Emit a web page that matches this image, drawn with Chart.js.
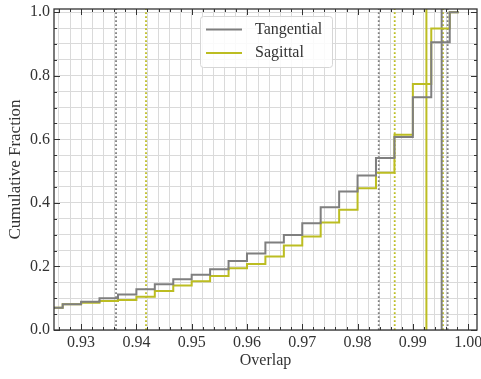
<!DOCTYPE html>
<html>
<head>
<meta charset="utf-8">
<script src="https://cdn.jsdelivr.net/npm/chart.js@4.4.0/dist/chart.umd.min.js"></script>
<style>
html, body { margin: 0; padding: 0; background: #fff; }
</style>
</head>
<body>
<canvas id="chart" width="481" height="379"></canvas>
<script>
// left edge of each histogram bin (last entry = end of the top step)
let binEdges = [0.92333, 0.92667, 0.93, 0.93333, 0.93667, 0.94, 0.94333, 0.94667, 0.95, 0.95333,
    0.95667, 0.96, 0.96333, 0.96667, 0.97, 0.97333, 0.97667, 0.98, 0.98333, 0.98667,
    0.99, 0.99333, 0.99667, 0.9983];
let tangential = [0.070, 0.081, 0.089, 0.100, 0.112, 0.128, 0.144, 0.160, 0.174, 0.191,
    0.217, 0.241, 0.275, 0.299, 0.336, 0.386, 0.436, 0.486, 0.541, 0.607,
    0.732, 0.905, 1.0, 1.0];
let sagittal = [0.070, 0.081, 0.086, 0.091, 0.094, 0.105, 0.123, 0.140, 0.153, 0.170,
    0.194, 0.208, 0.231, 0.266, 0.294, 0.338, 0.378, 0.446, 0.495, 0.614,
    0.774, 0.949, 1.0, 1.0];

// vertical marker lines
let tangentialDotted = [0.93632, 0.98383, 0.99629];
let tangentialSolid = [0.99521];
let sagittalDotted = [0.94174, 0.98672, 0.99545];
let sagittalSolid = [0.99245];

let xTicksStep = 0.002;
let yTicksStep = 0.05;

const gray = '#7f7f7f';
const olive = '#bcbd22';
const yTop = 1.01;

Chart.defaults.font.family = "'Liberation Serif', serif";
Chart.defaults.font.size = 16;
Chart.defaults.color = '#333';

function stepData(values) {
    let pts = [];
    for (let i = 0; i < binEdges.length; i++) {
        pts.push({ x: binEdges[i], y: values[i] });
    }
    return pts;
}

function markLine(x, color, dotted) {
    return {
        data: [{ x: x, y: 0 }, { x: x, y: yTop }],
        borderColor: color,
        borderWidth: dotted ? 1.8 : 2,
        borderDash: dotted ? [1.8, 2.2] : [],
        pointRadius: 0,
        fill: false,
        isMark: true
    };
}

let datasets = [
    { label: 'Tangential', data: stepData(tangential), stepped: 'before', borderColor: gray, borderWidth: 2, pointRadius: 0, fill: false },
    { label: 'Sagittal', data: stepData(sagittal), stepped: 'before', borderColor: olive, borderWidth: 2, pointRadius: 0, fill: false }
];
tangentialDotted.forEach(x => datasets.push(markLine(x, gray, true)));
tangentialSolid.forEach(x => datasets.push(markLine(x, gray, false)));
sagittalDotted.forEach(x => datasets.push(markLine(x, olive, true)));
sagittalSolid.forEach(x => datasets.push(markLine(x, olive, false)));

function isMajor(v, every) {
    let r = v / every;
    return Math.abs(r - Math.round(r)) < 1e-6;
}

// inward ticks on all four sides plus the frame
const frameTicks = {
    id: 'frameTicks',
    afterDraw(chart) {
        const ctx = chart.ctx;
        const a = chart.chartArea;
        const xs = chart.scales.x, ys = chart.scales.y;
        ctx.save();
        ctx.strokeStyle = '#333';
        ctx.lineWidth = 1;
        ctx.beginPath();
        xs.ticks.forEach(t => {
            let px = Math.round(xs.getPixelForValue(t.value)) + 0.5;
            let len = isMajor(t.value, 0.01) ? 6 : 3;
            ctx.moveTo(px, a.bottom); ctx.lineTo(px, a.bottom - len);
            ctx.moveTo(px, a.top); ctx.lineTo(px, a.top + len);
        });
        ys.ticks.forEach(t => {
            let py = Math.round(ys.getPixelForValue(t.value)) + 0.5;
            let len = isMajor(t.value, 0.2) ? 6 : 3;
            ctx.moveTo(a.left, py); ctx.lineTo(a.left + len, py);
            ctx.moveTo(a.right, py); ctx.lineTo(a.right - len, py);
        });
        ctx.stroke();
        ctx.lineWidth = 1.3;
        ctx.strokeRect(a.left, a.top, a.right - a.left, a.bottom - a.top);
        ctx.restore();
    }
};

// legend box inside the plot
const innerLegend = {
    id: 'innerLegend',
    afterDraw(chart) {
        const ctx = chart.ctx;
        const bx = 200, by = 16, bw = 132, bh = 51;
        ctx.save();
        ctx.fillStyle = 'rgba(255,255,255,0.85)';
        ctx.strokeStyle = '#d6d6d6';
        ctx.lineWidth = 1;
        ctx.beginPath();
        ctx.roundRect(bx + 0.5, by + 0.5, bw, bh, 3);
        ctx.fill();
        ctx.stroke();
        ctx.font = "16px 'Liberation Serif', serif";
        ctx.textBaseline = 'middle';
        let rows = chart.data.datasets.filter(d => !d.isMark);
        rows.forEach((d, i) => {
            let y = by + 13.5 + i * 23.5;
            ctx.strokeStyle = d.borderColor;
            ctx.lineWidth = 2;
            ctx.beginPath();
            ctx.moveTo(206, y); ctx.lineTo(242, y);
            ctx.stroke();
            ctx.fillStyle = '#333';
            ctx.fillText(d.label, 255, y);
        });
        ctx.restore();
    }
};

const ctx = document.getElementById('chart');

new Chart(ctx, {
    type: 'line',
    data: { datasets: datasets },
    options: {
        responsive: false,
        animation: false,
        layout: { padding: { top: 9, right: 4, left: 0, bottom: 0 } },
        plugins: { legend: { display: false }, tooltip: { enabled: false } },
        scales: {
            x: {
                type: 'linear',
                min: 0.9251,
                max: 1.0016,
                afterFit: s => { s.height = 49; s.paddingLeft = 0; s.paddingRight = 0; },
                border: { display: false },
                grid: { color: '#dadada', lineWidth: 1, drawTicks: false },
                ticks: {
                    stepSize: xTicksStep,
                    includeBounds: false,
                    autoSkip: false,
                    maxRotation: 0,
                    padding: 3,
                    callback: v => isMajor(v, 0.01) ? v.toFixed(2) : ''
                },
                title: { display: true, text: 'Overlap', padding: { bottom: 9, top: 0 } }
            },
            y: {
                type: 'linear',
                min: 0,
                max: yTop,
                afterFit: s => { s.width = 54; s.paddingTop = 0; s.paddingBottom = 0; },
                border: { display: false },
                grid: { color: '#dadada', lineWidth: 1, drawTicks: false },
                ticks: {
                    stepSize: yTicksStep,
                    includeBounds: false,
                    autoSkip: false,
                    padding: 4,
                    callback: v => isMajor(v, 0.2) ? v.toFixed(1) : ''
                },
                title: { display: true, text: 'Cumulative Fraction', font: { size: 17 }, padding: { top: 5, bottom: 0 } }
            }
        }
    },
    plugins: [frameTicks, innerLegend]
});
</script>
</body>
</html>
